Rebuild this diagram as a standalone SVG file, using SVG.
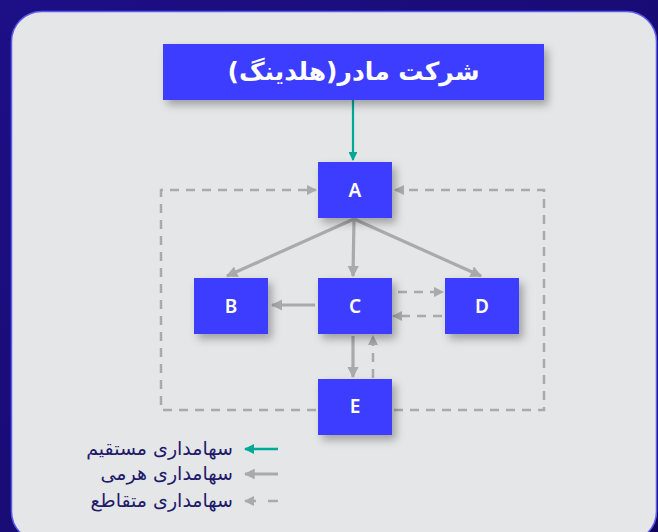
<svg xmlns="http://www.w3.org/2000/svg" width="658" height="532" viewBox="0 0 658 532">
<style>
.node rect{fill:#3c3cff;filter:url(#sh)}
.node text{fill:#fff;font-family:"Noto Sans","DejaVu Sans",sans-serif;font-size:19px;font-weight:600;text-anchor:middle}
.solid{stroke:#aaaaad;stroke-width:3.2;fill:none;marker-end:url(#ag)}
.dash{stroke:#aaaaad;stroke-width:2.5;fill:none;stroke-dasharray:9 7;marker-end:url(#agd)}
.leg{fill:#1e1a6a;font-family:"DejaVu Sans",sans-serif;font-size:19px;text-anchor:end}
</style>
<defs>
<linearGradient id="bg" x1="0" y1="0" x2="1" y2="1">
<stop offset="0" stop-color="#1d0f86"/>
<stop offset="0.6" stop-color="#170b72"/>
<stop offset="1" stop-color="#10055a"/>
</linearGradient>
<filter id="sh" x="-30%" y="-30%" width="170%" height="170%">
<feDropShadow dx="4" dy="5" stdDeviation="4" flood-color="#000" flood-opacity="0.3"/>
</filter>
<marker id="ag" viewBox="0 0 10 10" refX="9" refY="5" markerWidth="3.6" markerHeight="3.6" orient="auto" markerUnits="strokeWidth">
<path d="M0,0 L10,5 L0,10 z" fill="#aaaaad"/>
</marker>
<marker id="agd" viewBox="0 0 10 10" refX="9" refY="5" markerWidth="4.2" markerHeight="4.2" orient="auto" markerUnits="strokeWidth">
<path d="M0,0 L10,5 L0,10 z" fill="#aaaaad"/>
</marker>
<marker id="at" viewBox="0 0 10 10" refX="9" refY="5" markerWidth="4" markerHeight="4" orient="auto" markerUnits="strokeWidth">
<path d="M0,0 L10,5 L0,10 z" fill="#00a896"/>
</marker>
</defs>
<rect x="0" y="0" width="658" height="532" fill="url(#bg)"/>
<rect x="11.5" y="11.5" width="645" height="530" rx="30" fill="#e5e6e8" stroke="#5a5af0" stroke-width="1.5"/>

<g id="connectors">
<line x1="353" y1="100" x2="353" y2="160" stroke="#00a896" stroke-width="2.2" marker-end="url(#at)"/>
<line class="solid" x1="354" y1="219" x2="227" y2="276"/>
<line class="solid" x1="354" y1="219" x2="353" y2="276"/>
<line class="solid" x1="354" y1="219" x2="481" y2="276"/>
<line class="solid" x1="315" y1="305" x2="272" y2="305"/>
<line class="solid" x1="353" y1="336" x2="353" y2="377"/>
<line class="dash" x1="398" y1="292" x2="443" y2="292"/>
<line class="dash" x1="442" y1="316" x2="393" y2="316"/>
<line class="dash" x1="373" y1="378" x2="373" y2="336"/>
<polyline class="dash" points="316,410 161,410 161,190 316,190"/>
<polyline class="dash" points="394,410 544,410 544,190 395,190"/>
</g>

<g id="holding" class="node">
<rect x="163" y="44" width="381" height="56"/>
<text x="353.5" y="80" direction="rtl" style="font-family:'DejaVu Sans',sans-serif;font-size:25px;font-weight:bold">شرکت مادر(هلدینگ)</text>
</g>
<g id="A" class="node"><rect x="318" y="162" width="74" height="56"/><text x="355" y="197">A</text></g>
<g id="B" class="node"><rect x="194" y="278" width="74" height="56"/><text x="231" y="313">B</text></g>
<g id="C" class="node"><rect x="318" y="278" width="74" height="56"/><text x="355" y="313">C</text></g>
<g id="D" class="node"><rect x="445" y="278" width="74" height="56"/><text x="482" y="313">D</text></g>
<g id="E" class="node"><rect x="318" y="379" width="74" height="56"/><text x="355" y="413">E</text></g>

<g id="legend">
<line x1="278" y1="449" x2="245" y2="449" stroke="#00a896" stroke-width="2.5" marker-end="url(#at)"/>
<text class="leg" x="233" y="455">سهامداری مستقیم</text>
<line x1="278" y1="474" x2="245" y2="474" stroke="#aaaaad" stroke-width="3" marker-end="url(#ag)"/>
<text class="leg" x="233" y="480">سهامداری هرمی</text>
<line x1="278" y1="501" x2="268" y2="501" stroke="#aaaaad" stroke-width="2.5"/>
<line x1="256" y1="501" x2="245" y2="501" stroke="#aaaaad" stroke-width="2.5" marker-end="url(#agd)"/>
<text class="leg" x="233" y="507">سهامداری متقاطع</text>
</g>
</svg>
